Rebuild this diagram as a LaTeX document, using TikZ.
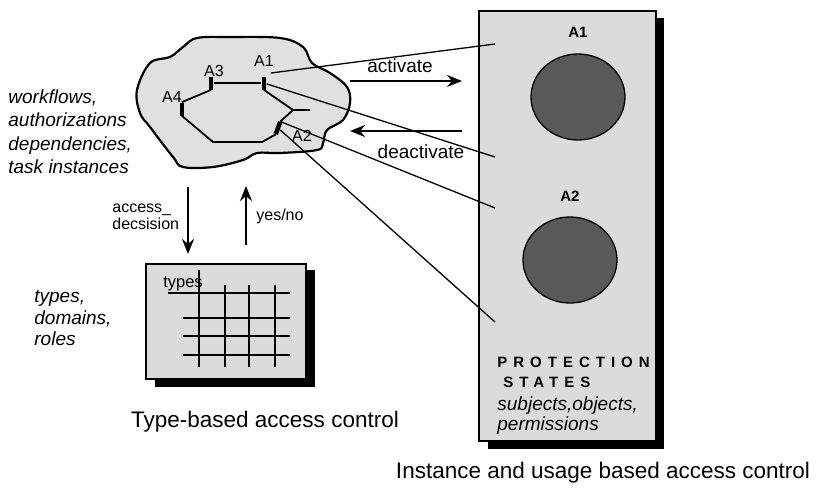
\documentclass[tikz,border=0pt]{standalone}
\usepackage{fontspec}
\setmainfont{Liberation Sans}
\newfontfamily\spacedfont[LetterSpace=40]{Liberation Sans}
\usetikzlibrary{shapes.geometric, arrows.meta, positioning}

\begin{document}
\begin{tikzpicture}[x=1pt, y=-1pt, thick,
  bar/.style={fill=black, inner sep=0, minimum width=4.5, minimum height=13},
  lbl/.style={inner sep=0, font=\fontsize{16}{19}\selectfont},
  big/.style={-{Stealth[length=15pt, width=12pt]}, line width=2.6pt},
  link/.style={line width=1.3pt},
  flow/.style={line width=1.8pt},
  dropshadow/.style={fill=black, draw=none},
  sheet/.style={fill=black!14, draw=black, line width=2.2pt, inner sep=0},
  token/.style={ellipse, draw, line width=1.3pt, fill=black!65, minimum width=94, minimum height=86}]
\useasboundingbox (0,0) rectangle (819,490);

% protection states box
\fill[dropshadow] (488,18) rectangle (664,449);
\node[sheet, minimum width=177, minimum height=430, anchor=north west] (pbox) at (478,10) {};
\node[token] (c1) at (578,97) {};
\node[token] (c2) at (570,260) {};
\node[lbl, font=\fontsize{15}{18}\selectfont\bfseries] (lc1) at (578,32) {A1};
\node[lbl, font=\fontsize{15}{18}\selectfont\bfseries] (lc2) at (570,196) {A2};
\node[anchor=base west, inner sep=0, font=\fontsize{15}{18}\selectfont\spacedfont\bfseries] (ps1) at (497,367) {PROTECTION};
\node[anchor=base west, inner sep=0, font=\fontsize{15}{18}\selectfont\spacedfont\bfseries] (ps2) at (503,387) {STATES};
\node[anchor=base west, inner sep=0, font=\fontsize{19}{22}\selectfont\itshape] (ps3) at (497,410) {subjects,objects,};
\node[anchor=base west, inner sep=0, font=\fontsize{19}{22}\selectfont\itshape] (ps4) at (497,430) {permissions};

% workflow cloud
\draw[fill=black!12, line width=2.2pt] plot[smooth cycle, tension=0.6] coordinates {
  (137,90) (150,63) (170,57) (183,47) (197,38) (230,37) (280,38) (303,47)
  (312,63) (330,73) (347,87) (350,103) (343,120) (327,130) (323,143) (317,150)
  (280,153) (257,153) (243,160) (213,167) (183,167) (173,157) (150,127) (140,113)};

\node[bar] (a3) at (211,83) {};
\node[bar] (a1) at (264,83) {};
\node[bar] (a4) at (182,109) {};
\node[bar, rotate=-20] (a2) at (278,128) {};
\node[lbl] (la3) at (214,71) {A3};
\node[lbl] (la1) at (264,61) {A1};
\node[lbl] (la4) at (172,97) {A4};
\node[lbl] (la2) at (302,136) {A2};

\coordinate (w1) at (213,142);
\coordinate (w2) at (262,142);
\coordinate (j) at (293,110);
\coordinate (stub) at (310,110);
\draw[flow] (a3) -- (a1);
\draw[flow] (a4.north) -- (a3.south);
\draw[flow] (a4.south) -- (w1) -- (w2) -- (a2.south);
\draw[flow] (a1.south) -- (j) -- (a2.north);
\draw[flow] (j) -- (stub);

% links into the box
\coordinate (s1) at (271,73);
\coordinate (e1) at (495,44);
\coordinate (e2) at (495,157);
\coordinate (e3) at (495,208);
\coordinate (e4) at (495,322);
\draw[link] (s1) -- (e1);
\draw[link] (a1) -- (e2);
\draw[link] (a2.north) -- (e3);
\draw[link] (a2) -- (e4);

% activate / deactivate
\coordinate (act1) at (350,81);
\coordinate (act2) at (462,81);
\coordinate (dea1) at (462,131);
\coordinate (dea2) at (350,131);
\draw[big] (act1) -- (act2);
\draw[big] (dea1) -- (dea2);
\node[lbl, font=\fontsize{19}{22}\selectfont] (lact) at (400,66) {activate};
\node[lbl, font=\fontsize{19}{22}\selectfont] (ldea) at (421,152) {deactivate};

\node[anchor=north west, align=left, inner sep=0, font=\fontsize{19}{23.5}\selectfont\itshape] (wf) at (8,89) {workflows,\\authorizations\\dependencies,\\task instances};

% type based part
\coordinate (q1) at (188,187);
\coordinate (q2) at (188,254);
\coordinate (r1) at (246,245);
\coordinate (r2) at (246,186);
\draw[big] (q1) -- (q2);
\draw[big] (r1) -- (r2);
\node[anchor=north west, align=left, inner sep=0, font=\fontsize{16}{17}\selectfont] (acc) at (112,203) {access\_\\decsision};
\node[lbl, anchor=west] (yn) at (256,216) {yes/no};

\fill[dropshadow] (155,270) rectangle (315,387);
\node[sheet, minimum width=160, minimum height=115, anchor=north west] (tbox) at (145,263) {};
\draw[line width=2pt] (199,270) -- (199,367);
\foreach \x in {225,249,275} \draw[line width=2pt] (\x,285) -- (\x,367);
\draw[line width=2pt] (168,293) -- (290,293);
\foreach \y in {318,336,355} \draw[line width=2pt] (183,\y) -- (290,\y);
\node[lbl, font=\fontsize{16.5}{19}\selectfont] (ltypes) at (183,284) {types};

\node[anchor=north west, align=left, inner sep=0, font=\fontsize{19}{21.5}\selectfont\itshape] (tdr) at (34,290) {types,\\domains,\\roles};

\node[font=\fontsize{22.5}{27}\selectfont] (cap1) at (265,422) {Type-based access control};
\node[font=\fontsize{22.5}{27}\selectfont] (cap2) at (603,473) {Instance and usage based access control};
\end{tikzpicture}
\end{document}
